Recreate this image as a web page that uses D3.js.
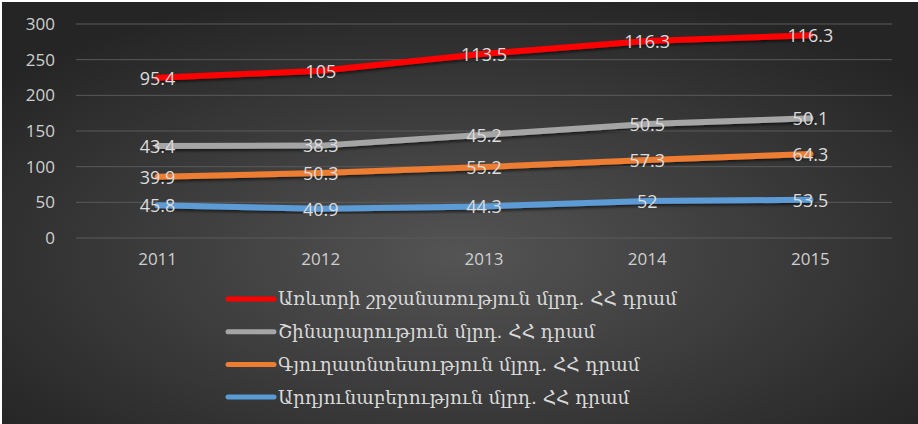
<!DOCTYPE html>
<html>
<head>
<meta charset="utf-8">
<script src="https://cdn.jsdelivr.net/npm/d3@7"></script>
<style>
  html, body { margin: 0; padding: 0; background: #fff; }
  svg { display: block; }
</style>
</head>
<body>
<svg id="chart"></svg>
<script>
const years = ['2011', '2012', '2013', '2014', '2015']
const seriesNames = [
  'Արդյունաբերություն մլրդ. ՀՀ դրամ',
  'Գյուղատնտեսություն մլրդ. ՀՀ դրամ',
  'Շինարարություն մլրդ. ՀՀ դրամ',
  'Առևտրի շրջանառություն մլրդ. ՀՀ դրամ'
]
const industry = [45.8, 40.9, 44.3, 52, 53.5]
const agriculture = [39.9, 50.3, 55.2, 57.3, 64.3]
const construction = [43.4, 38.3, 45.2, 50.5, 50.1]
const trade = [95.4, 105, 113.5, 116.3, 116.3]
const yTicks = [0, 50, 100, 150, 200, 250, 300]
const colors = ['#5b9bd5', '#ed7d31', '#a5a5a5', '#ff0000']

const width = 918
const height = 424
const svg = d3.select('#chart')
              .attr('width', width)
              .attr('height', height)

const defs = svg.append('defs')
const grad = defs.append('radialGradient')
                 .attr('id', 'bg')
                 .attr('cx', '50%').attr('cy', '60%').attr('r', '65%')
grad.append('stop').attr('offset', '0%').attr('stop-color', '#545454')
grad.append('stop').attr('offset', '100%').attr('stop-color', '#252525')

const shadow = defs.append('filter').attr('id', 'shadow')
                   .attr('x', '-5%').attr('y', '-50%').attr('width', '110%').attr('height', '200%')
shadow.append('feDropShadow')
      .attr('dx', 1).attr('dy', 2).attr('stdDeviation', 1.5)
      .attr('flood-color', '#000').attr('flood-opacity', 0.6)

svg.append('rect')
   .attr('x', 2).attr('y', 2)
   .attr('width', width - 2).attr('height', height - 2)
   .attr('fill', 'url(#bg)')

const plotLeft = 76
const plotRight = 892
const plotTop = 24
const plotBottom = 238

const xScale = d3.scaleBand()
                 .domain(years)
                 .range([plotLeft, plotRight])
const yScale = d3.scaleLinear()
                 .domain([0, 300])
                 .range([plotBottom, plotTop])

// gridlines
svg.append('g')
   .selectAll('line')
   .data(yTicks)
   .join('line')
   .attr('x1', plotLeft).attr('x2', plotRight)
   .attr('y1', d => yScale(d)).attr('y2', d => yScale(d))
   .attr('stroke', '#5a5a5a')
   .attr('stroke-width', 1)

const yAxis = d3.axisLeft(yScale).tickValues(yTicks).tickSize(0).tickPadding(0)
const yG = svg.append('g')
   .attr('transform', `translate(${plotLeft - 21}, 0)`)
   .call(yAxis)
yG.select('.domain').remove()
yG.selectAll('text')
  .attr('fill', '#cfcfcf')
  .style('font-family', '"Open Sans", sans-serif')
  .style('font-size', '17px')

const xAxis = d3.axisBottom(xScale).tickSize(0).tickPadding(0)
const xG = svg.append('g')
   .attr('transform', `translate(0, ${plotBottom + 13})`)
   .call(xAxis)
xG.select('.domain').remove()
xG.selectAll('text')
  .attr('fill', '#cfcfcf')
  .attr('dy', '0.85em')
  .style('font-family', '"Open Sans", sans-serif')
  .style('font-size', '17px')

// stacked series
const table = years.map((y, i) => ({
  year: y,
  s0: industry[i], s1: agriculture[i], s2: construction[i], s3: trade[i]
}))
const stack = d3.stack().keys(['s0', 's1', 's2', 's3'])
const stacked = stack(table)

const line = d3.line()
               .x(d => xScale(d.data.year) + xScale.bandwidth() / 2)
               .y(d => yScale(d[1]))

svg.append('g')
   .selectAll('path')
   .data(stacked)
   .join('path')
   .attr('d', line)
   .attr('fill', 'none')
   .attr('stroke', (d, i) => colors[i])
   .attr('stroke-width', 6)
   .attr('stroke-linecap', 'round')
   .attr('filter', 'url(#shadow)')

stacked.forEach(s => {
  svg.append('g')
     .selectAll('text')
     .data(s)
     .join('text')
     .attr('x', d => xScale(d.data.year) + xScale.bandwidth() / 2)
     .attr('y', d => yScale(d[1]))
     .attr('dy', '0.38em')
     .attr('text-anchor', 'middle')
     .attr('fill', '#dcdcdc')
     .style('font-family', '"Open Sans", sans-serif')
     .style('font-size', '18px')
     .text(d => {
       const v = d[1] - d[0]
       return v === Math.round(v) ? v : v.toFixed(1)
     })
})

// legend, top entry is the top series
const legendRows = [3, 2, 1, 0]
const legend = svg.append('g')
legendRows.forEach((k, row) => {
  const y = 299 + row * 32.7
  legend.append('line')
        .attr('x1', 228).attr('x2', 274)
        .attr('y1', y).attr('y2', y)
        .attr('stroke', colors[k])
        .attr('stroke-width', 5)
        .attr('stroke-linecap', 'round')
  legend.append('text')
        .attr('x', 278).attr('y', y)
        .attr('dy', '0.35em')
        .attr('fill', '#d9d9d9')
        .style('font-family', '"DejaVu Serif", serif')
        .style('font-size', '18.5px')
        .text(seriesNames[k])
})
</script>
</body>
</html>
